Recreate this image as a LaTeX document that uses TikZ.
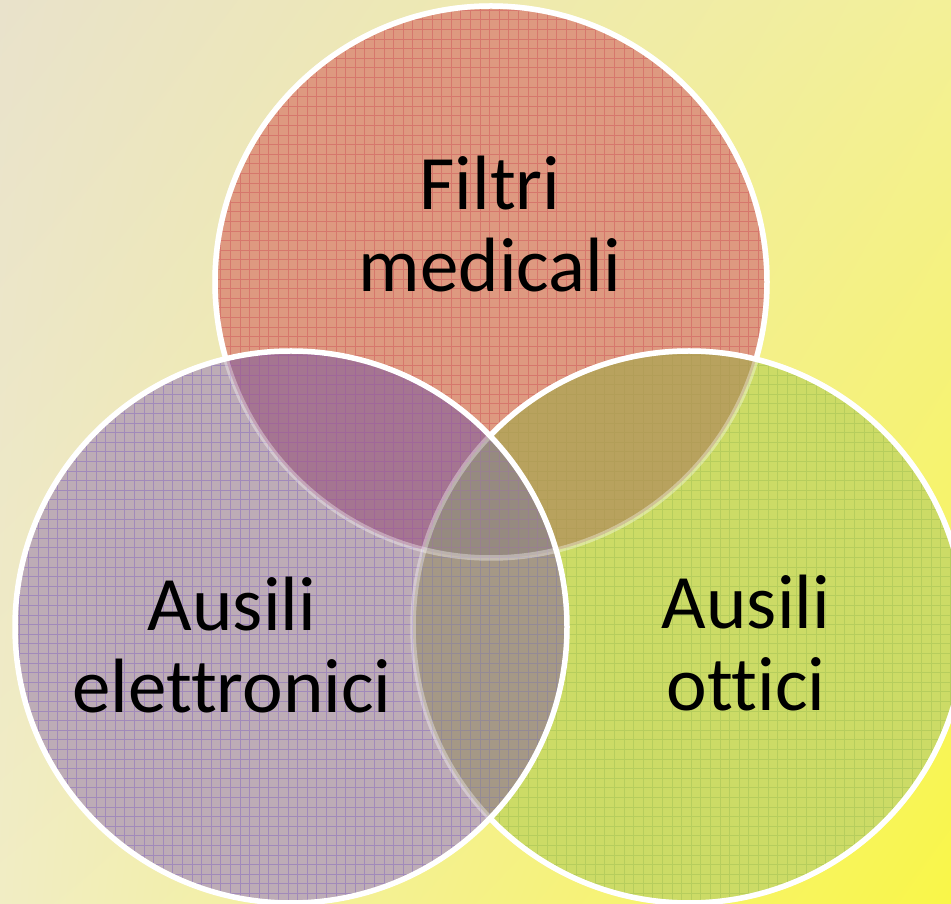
\documentclass[tikz,border=0pt]{standalone}
\usepackage{fontspec}
\setmainfont{Carlito}[Ligatures=NoCommon]
\usepackage{xcolor}
\usepackage{tikz}
\usetikzlibrary{shadings}
\definecolor{bgTopLeft}{RGB}{233, 226, 203}
\definecolor{bgTopRight}{RGB}{243, 240, 152}
\definecolor{bgBottomLeft}{RGB}{241, 237, 196}
\definecolor{bgBottomRight}{RGB}{249, 246, 72}
\definecolor{filtriFill}{RGB}{222, 153, 128}
\definecolor{filtriLine}{RGB}{208, 86, 90}
\definecolor{elettroniciFill}{RGB}{189, 172, 182}
\definecolor{elettroniciLine}{RGB}{135, 106, 190}
\definecolor{otticiFill}{RGB}{204, 219, 102}
\definecolor{otticiLine}{RGB}{162, 193, 86}
\definecolor{filtriElettroniciFill}{RGB}{165, 117, 145}
\definecolor{filtriOtticiFill}{RGB}{184, 162, 94}
\definecolor{elettroniciOtticiFill}{RGB}{165, 152, 134}
\definecolor{centreFill}{RGB}{150, 138, 128}
\tikzset{
    venn_grid/.style={
        step=9.6,
        line width=0.9pt,
        draw opacity=0.5
    },
    venn_rim/.style={
        draw=white,
        line width=5.5pt
    },
    venn_rim_faint/.style={
        venn_rim,
        draw opacity=0.35
    },
    venn_label/.style={
        align=center,
        inner sep=0pt,
        text=black,
        font=\fontsize{77}{82}\selectfont
    }
}
\begin{document}
\begin{tikzpicture}[x=1pt, y=1pt]
    \useasboundingbox (0,0) rectangle (951,903);
    \shade[upper left=bgTopLeft, upper right=bgTopRight,
        lower left=bgBottomLeft, lower right=bgBottomRight]
        (0,0) rectangle (951,903);

    \coordinate (filtri) at (491,621);
    \coordinate (elettronici) at (291,276);
    \coordinate (ottici) at (689,276);

    % plain fills
    \fill[filtriFill] (filtri) circle (276);
    \fill[otticiFill] (ottici) circle (276);
    \fill[elettroniciFill] (elettronici) circle (276);

    % overlaps
    \begin{scope}
        \clip (ottici) circle (276);
        \fill[elettroniciOtticiFill] (elettronici) circle (276);
    \end{scope}
    \begin{scope}
        \clip (filtri) circle (276);
        \fill[filtriOtticiFill] (ottici) circle (276);
        \fill[filtriElettroniciFill] (elettronici) circle (276);
        \clip (ottici) circle (276);
        \fill[centreFill] (elettronici) circle (276);
    \end{scope}

    % squared paper
    \foreach \c/\col in {filtri/filtriLine, ottici/otticiLine, elettronici/elettroniciLine} {
        \begin{scope}
            \clip (\c) circle (276);
            \draw[venn_grid, draw=\col] (\c) ++(-280,-280) grid ++(560,560);
        \end{scope}
    }

    % rims, the lower ones shine through
    \draw[venn_rim_faint] (filtri) circle (276);
    \draw[venn_rim_faint] (ottici) circle (276);
    \begin{scope}[even odd rule]
        \clip (-10,-10) rectangle (961,913) (elettronici) circle (276);
        \draw[venn_rim] (ottici) circle (276);
        \clip (-10,-10) rectangle (961,913) (ottici) circle (276);
        \draw[venn_rim] (filtri) circle (276);
    \end{scope}
    \draw[venn_rim] (elettronici) circle (276);

    \node[venn_label] (filtriLabel) at (490,679) {Filtri\\medicali};
    \node[venn_label] (elettroniciLabel) at (232,258) {Ausili\\elettronici};
    \node[venn_label] (otticiLabel) at (746,260) {Ausili\\ottici};
\end{tikzpicture}
\end{document}
